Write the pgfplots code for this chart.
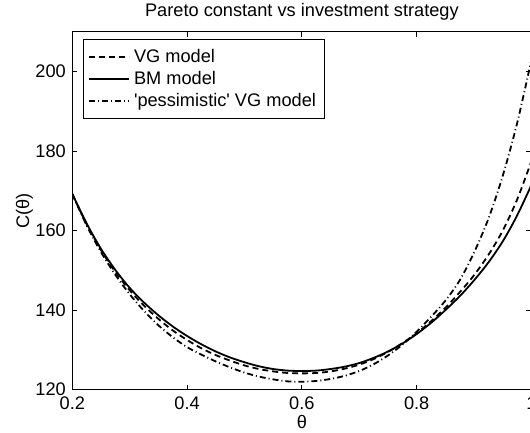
\documentclass[border=0pt]{standalone}
\usepackage{fontspec}
\setmainfont{Liberation Sans}
\usepackage{pgfplots}
\pgfplotsset{compat=1.18}
\newcommand{\fs}{\fontsize{9.1pt}{11pt}\selectfont}
\begin{document}
\fs
\begin{tikzpicture}
\begin{axis}[
  at={(0,0)}, anchor=south west,
  scale only axis, width=229.6pt, height=179pt,
  xmin=0.2, xmax=1, ymin=120, ymax=210,
  xtick={0.2,0.4,0.6,0.8,1}, ytick={120,140,160,180,200},
  /pgf/number format/assume math mode=true,
  /pgf/number format/fixed,
  tick align=inside, major tick length=2.5pt,
  axis line style={line width=0.5pt},
  tick style={line width=0.5pt, black},
  ticklabel style={font=\fs},
  xticklabel style={yshift=-0.5pt},
  title={Pareto constant vs investment strategy},
  title style={font=\fs, yshift=-3.5pt},
  xlabel={θ}, ylabel={C(θ)},
  xlabel style={font=\fs, yshift=3.5pt},
  ylabel style={font=\fs, yshift=-5pt},
  legend cell align=left,
  legend style={at={(0.0227,0.981)}, anchor=north west, draw=black, line width=0.5pt,
    fill=white, font=\fs, inner xsep=2.5pt, inner ysep=3pt,
    row sep=-1pt},
  legend image code/.code={\draw[#1] (0pt,0pt) -- (20pt,0pt);},
]
\addplot[black, line width=0.9pt, dash pattern=on 3pt off 2pt, smooth] coordinates {
(0.200,169.2) (0.225,161.6) (0.250,155.1) (0.275,149.6) (0.300,145.0) (0.325,141.1)
(0.350,137.8) (0.375,134.9) (0.400,132.5) (0.425,130.4) (0.450,128.7) (0.475,127.3)
(0.500,126.1) (0.525,125.2) (0.550,124.6) (0.575,124.2) (0.600,124.1) (0.625,124.2)
(0.650,124.6) (0.675,125.3) (0.700,126.3) (0.725,127.7) (0.750,129.5) (0.775,131.7)
(0.800,134.2) (0.825,137.2) (0.850,140.6) (0.875,144.5) (0.900,148.8) (0.925,153.9)
(0.950,160.0) (0.975,167.8) (1.000,177.5)
};
\addlegendentry{VG model}
\addplot[black, line width=0.9pt, smooth] coordinates {
(0.200,169.2) (0.225,161.8) (0.250,155.4) (0.275,150.1) (0.300,145.6) (0.325,141.9)
(0.350,138.7) (0.375,135.9) (0.400,133.5) (0.425,131.4) (0.450,129.6) (0.475,128.1)
(0.500,126.9) (0.525,125.9) (0.550,125.2) (0.575,124.8) (0.600,124.7) (0.625,124.8)
(0.650,125.2) (0.675,125.8) (0.700,126.7) (0.725,128.0) (0.750,129.6) (0.775,131.6)
(0.800,134.0) (0.825,136.8) (0.850,140.0) (0.875,143.5) (0.900,147.5) (0.925,152.0)
(0.950,157.3) (0.975,163.8) (1.000,171.5)
};
\addlegendentry{BM model}
\addplot[black, line width=0.9pt, dash pattern=on 3pt off 1.5pt on 0.5pt off 1.5pt, smooth] coordinates {
(0.200,169.2) (0.225,161.3) (0.250,154.6) (0.275,148.9) (0.300,144.0) (0.325,139.8)
(0.350,136.2) (0.375,133.2) (0.400,130.7) (0.425,128.8) (0.450,127.1) (0.475,125.6)
(0.500,124.3) (0.525,123.3) (0.550,122.6) (0.575,122.1) (0.600,122.0) (0.625,122.2)
(0.650,122.7) (0.675,123.5) (0.700,124.7) (0.725,126.4) (0.750,128.6) (0.775,131.3)
(0.800,134.6) (0.825,138.3) (0.850,142.4) (0.875,147.5) (0.900,154.5) (0.925,163.0)
(0.950,173.8) (0.975,187.0) (1.000,203.0)
};
\addlegendentry{\textquotesingle pessimistic\textquotesingle{} VG model}
\end{axis}
\pgfresetboundingbox
\useasboundingbox (-36.15pt,-21.65pt) rectangle (228.85pt,194.85pt);
\end{tikzpicture}
\end{document}
